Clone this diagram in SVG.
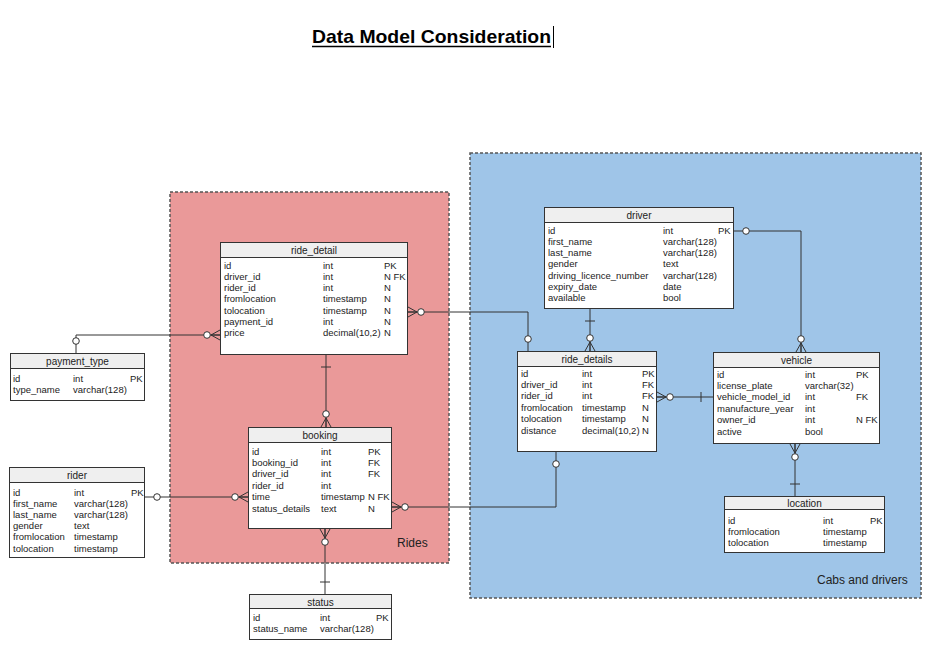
<svg xmlns="http://www.w3.org/2000/svg" xmlns:xlink="http://www.w3.org/1999/xlink" width="932" height="651" viewBox="0 0 932 651">
<style>
.region{stroke:#555;stroke-width:1.5;stroke-dasharray:3 2}
.tbl{fill:#fff;stroke:#333;stroke-width:1}
.hdr{fill:#efefef;stroke:#333;stroke-width:1}
.t{font-family:"Liberation Sans",Arial,sans-serif;font-size:9.5px;fill:#222}
.h{font-family:"Liberation Sans",Arial,sans-serif;font-size:10px;fill:#222;text-anchor:middle}
.lbl{font-family:"Liberation Sans",Arial,sans-serif;font-size:12px;fill:#222}
.conn{fill:none;stroke:#333;stroke-width:1}
.sym{fill:none;stroke:#333;stroke-width:1}
.circ{fill:#fff;stroke:#333;stroke-width:1}
</style>
<defs>
<g id="zm"><path class="sym" d="M-9,0 L0,-5 M-9,0 L0,5 M-9,0 L0,0"/><circle class="circ" cx="-13" cy="0" r="3.3"/></g>
<g id="zero"><circle class="circ" cx="-12" cy="0" r="3.3"/></g>
<g id="one"><path class="sym" d="M-12,-5 V5"/></g>
</defs>
<rect width="932" height="651" fill="#fff"/>
<g id="title">
<text x="312" y="43" font-family="'Liberation Sans',Arial,sans-serif" font-size="19" font-weight="bold" fill="#000" textLength="239" lengthAdjust="spacingAndGlyphs">Data Model Consideration</text>
<line x1="312" y1="46.5" x2="551" y2="46.5" stroke="#000" stroke-width="1.3"/>
<line x1="553.5" y1="26" x2="553.5" y2="48" stroke="#000" stroke-width="1"/>
</g>
<g id="rides-region">
<rect class="region" x="170" y="192" width="279" height="371" fill="#ea9999"/>
<text class="lbl" x="397" y="547">Rides</text>
</g>
<g id="cabs-region">
<rect class="region" x="470" y="153" width="451" height="445" fill="#9fc5e8"/>
<text class="lbl" x="817" y="584">Cabs and drivers</text>
</g>
<g id="connectors">
<path class="conn" d="M76,353 V335 H220"/>
<path class="conn" d="M408,312 H528 V351"/>
<path class="conn" d="M326,355 V427"/>
<path class="conn" d="M145,497 H248"/>
<path class="conn" d="M392,507 H556 V452"/>
<path class="conn" d="M325,529 V594"/>
<path class="conn" d="M590,309 V351"/>
<path class="conn" d="M734,231 H801 V352"/>
<path class="conn" d="M657,397 H713"/>
<path class="conn" d="M795,444 V496"/>
<use xlink:href="#zero" transform="translate(76,353) rotate(90)"/>
<use xlink:href="#zm" transform="translate(220,335)"/>
<use xlink:href="#zm" transform="translate(408,312) rotate(180)"/>
<use xlink:href="#zero" transform="translate(528,351) rotate(90)"/>
<use xlink:href="#one" transform="translate(326,355) rotate(-90)"/>
<use xlink:href="#zm" transform="translate(326,427) rotate(90)"/>
<use xlink:href="#zero" transform="translate(145,497) rotate(180)"/>
<use xlink:href="#zm" transform="translate(248,497)"/>
<use xlink:href="#zm" transform="translate(392,507) rotate(180)"/>
<use xlink:href="#zero" transform="translate(556,452) rotate(-90)"/>
<use xlink:href="#zm" transform="translate(325,529) rotate(-90)"/>
<use xlink:href="#one" transform="translate(325,594) rotate(90)"/>
<use xlink:href="#one" transform="translate(590,309) rotate(-90)"/>
<use xlink:href="#zm" transform="translate(590,351) rotate(90)"/>
<use xlink:href="#zero" transform="translate(734,231) rotate(180)"/>
<use xlink:href="#zm" transform="translate(801,352) rotate(90)"/>
<use xlink:href="#zm" transform="translate(657,397) rotate(180)"/>
<use xlink:href="#one" transform="translate(713,397)"/>
<use xlink:href="#zm" transform="translate(795,444) rotate(-90)"/>
<use xlink:href="#one" transform="translate(795,496) rotate(90)"/>
</g>
<g id="ride_detail">
<rect class="tbl" x="220.5" y="242.5" width="187" height="112"/>
<rect class="hdr" x="220.5" y="242.5" width="187" height="15"/>
<text class="h" x="314" y="254">ride_detail</text>
<text class="t" x="224" y="268.5">id</text><text class="t" x="323" y="268.5">int</text><text class="t" x="384" y="268.5">PK</text>
<text class="t" x="224" y="279.8">driver_id</text><text class="t" x="323" y="279.8">int</text><text class="t" x="384" y="279.8">N FK</text>
<text class="t" x="224" y="291.1">rider_id</text><text class="t" x="323" y="291.1">int</text><text class="t" x="384" y="291.1">N</text>
<text class="t" x="224" y="302.4">fromlocation</text><text class="t" x="323" y="302.4">timestamp</text><text class="t" x="384" y="302.4">N</text>
<text class="t" x="224" y="313.7">tolocation</text><text class="t" x="323" y="313.7">timestamp</text><text class="t" x="384" y="313.7">N</text>
<text class="t" x="224" y="325">payment_id</text><text class="t" x="323" y="325">int</text><text class="t" x="384" y="325">N</text>
<text class="t" x="224" y="336.3">price</text><text class="t" x="323" y="336.3">decimal(10,2)</text><text class="t" x="384" y="336.3">N</text>
</g>
<g id="payment_type">
<rect class="tbl" x="10.5" y="353.5" width="134" height="47"/>
<rect class="hdr" x="10.5" y="353.5" width="134" height="15"/>
<text class="h" x="77.5" y="365">payment_type</text>
<text class="t" x="13" y="381.5">id</text><text class="t" x="73" y="381.5">int</text><text class="t" x="130" y="381.5">PK</text>
<text class="t" x="13" y="392.5">type_name</text><text class="t" x="73" y="392.5">varchar(128)</text>
</g>
<g id="rider">
<rect class="tbl" x="9.5" y="467.5" width="135" height="90"/>
<rect class="hdr" x="9.5" y="467.5" width="135" height="15"/>
<text class="h" x="77" y="479">rider</text>
<text class="t" x="13" y="495.5">id</text><text class="t" x="74" y="495.5">int</text><text class="t" x="131" y="495.5">PK</text>
<text class="t" x="13" y="506.7">first_name</text><text class="t" x="74" y="506.7">varchar(128)</text>
<text class="t" x="13" y="517.9">last_name</text><text class="t" x="74" y="517.9">varchar(128)</text>
<text class="t" x="13" y="529.1">gender</text><text class="t" x="74" y="529.1">text</text>
<text class="t" x="13" y="540.3">fromlocation</text><text class="t" x="74" y="540.3">timestamp</text>
<text class="t" x="13" y="551.5">tolocation</text><text class="t" x="74" y="551.5">timestamp</text>
</g>
<g id="booking">
<rect class="tbl" x="248.5" y="427.5" width="143" height="101"/>
<rect class="hdr" x="248.5" y="427.5" width="143" height="15"/>
<text class="h" x="320" y="439">booking</text>
<text class="t" x="252" y="454.5">id</text><text class="t" x="321" y="454.5">int</text><text class="t" x="368" y="454.5">PK</text>
<text class="t" x="252" y="465.9">booking_id</text><text class="t" x="321" y="465.9">int</text><text class="t" x="368" y="465.9">FK</text>
<text class="t" x="252" y="477.3">driver_id</text><text class="t" x="321" y="477.3">int</text><text class="t" x="368" y="477.3">FK</text>
<text class="t" x="252" y="488.7">rider_id</text><text class="t" x="321" y="488.7">int</text>
<text class="t" x="252" y="500.1">time</text><text class="t" x="321" y="500.1">timestamp</text><text class="t" x="368" y="500.1">N FK</text>
<text class="t" x="252" y="511.5">status_details</text><text class="t" x="321" y="511.5">text</text><text class="t" x="368" y="511.5">N</text>
</g>
<g id="status">
<rect class="tbl" x="249.5" y="594.5" width="142" height="45"/>
<rect class="hdr" x="249.5" y="594.5" width="142" height="14"/>
<text class="h" x="320.5" y="605.5">status</text>
<text class="t" x="253" y="620.5">id</text><text class="t" x="320" y="620.5">int</text><text class="t" x="376" y="620.5">PK</text>
<text class="t" x="253" y="632">status_name</text><text class="t" x="320" y="632">varchar(128)</text>
</g>
<g id="driver">
<rect class="tbl" x="544.5" y="207.5" width="189" height="101"/>
<rect class="hdr" x="544.5" y="207.5" width="189" height="15"/>
<text class="h" x="639" y="219">driver</text>
<text class="t" x="548" y="233.5">id</text><text class="t" x="663" y="233.5">int</text><text class="t" x="718" y="233.5">PK</text>
<text class="t" x="548" y="244.8">first_name</text><text class="t" x="663" y="244.8">varchar(128)</text>
<text class="t" x="548" y="256.1">last_name</text><text class="t" x="663" y="256.1">varchar(128)</text>
<text class="t" x="548" y="267.4">gender</text><text class="t" x="663" y="267.4">text</text>
<text class="t" x="548" y="278.7">driving_licence_number</text><text class="t" x="663" y="278.7">varchar(128)</text>
<text class="t" x="548" y="290">expiry_date</text><text class="t" x="663" y="290">date</text>
<text class="t" x="548" y="301.3">available</text><text class="t" x="663" y="301.3">bool</text>
</g>
<g id="ride_details">
<rect class="tbl" x="517.5" y="351.5" width="139" height="100"/>
<rect class="hdr" x="517.5" y="351.5" width="139" height="15"/>
<text class="h" x="587" y="363">ride_details</text>
<text class="t" x="521" y="376.5">id</text><text class="t" x="582" y="376.5">int</text><text class="t" x="642" y="376.5">PK</text>
<text class="t" x="521" y="387.9">driver_id</text><text class="t" x="582" y="387.9">int</text><text class="t" x="642" y="387.9">FK</text>
<text class="t" x="521" y="399.3">rider_id</text><text class="t" x="582" y="399.3">int</text><text class="t" x="642" y="399.3">FK</text>
<text class="t" x="521" y="410.7">fromlocation</text><text class="t" x="582" y="410.7">timestamp</text><text class="t" x="642" y="410.7">N</text>
<text class="t" x="521" y="422.1">tolocation</text><text class="t" x="582" y="422.1">timestamp</text><text class="t" x="642" y="422.1">N</text>
<text class="t" x="521" y="433.5">distance</text><text class="t" x="582" y="433.5">decimal(10,2)</text><text class="t" x="642" y="433.5">N</text>
</g>
<g id="vehicle">
<rect class="tbl" x="713.5" y="352.5" width="166" height="91"/>
<rect class="hdr" x="713.5" y="352.5" width="166" height="15"/>
<text class="h" x="796.5" y="364">vehicle</text>
<text class="t" x="717" y="377.5">id</text><text class="t" x="805" y="377.5">int</text><text class="t" x="856" y="377.5">PK</text>
<text class="t" x="717" y="388.9">license_plate</text><text class="t" x="805" y="388.9">varchar(32)</text>
<text class="t" x="717" y="400.3">vehicle_model_id</text><text class="t" x="805" y="400.3">int</text><text class="t" x="856" y="400.3">FK</text>
<text class="t" x="717" y="411.7">manufacture_year</text><text class="t" x="805" y="411.7">int</text>
<text class="t" x="717" y="423.1">owner_id</text><text class="t" x="805" y="423.1">int</text><text class="t" x="856" y="423.1">N FK</text>
<text class="t" x="717" y="434.5">active</text><text class="t" x="805" y="434.5">bool</text>
</g>
<g id="location">
<rect class="tbl" x="724.5" y="496.5" width="160" height="56"/>
<rect class="hdr" x="724.5" y="496.5" width="160" height="13"/>
<text class="h" x="804.5" y="506.5">location</text>
<text class="t" x="728" y="523.5">id</text><text class="t" x="823" y="523.5">int</text><text class="t" x="870" y="523.5">PK</text>
<text class="t" x="728" y="534.5">fromlocation</text><text class="t" x="823" y="534.5">timestamp</text>
<text class="t" x="728" y="545.5">tolocation</text><text class="t" x="823" y="545.5">timestamp</text>
</g>
</svg>
